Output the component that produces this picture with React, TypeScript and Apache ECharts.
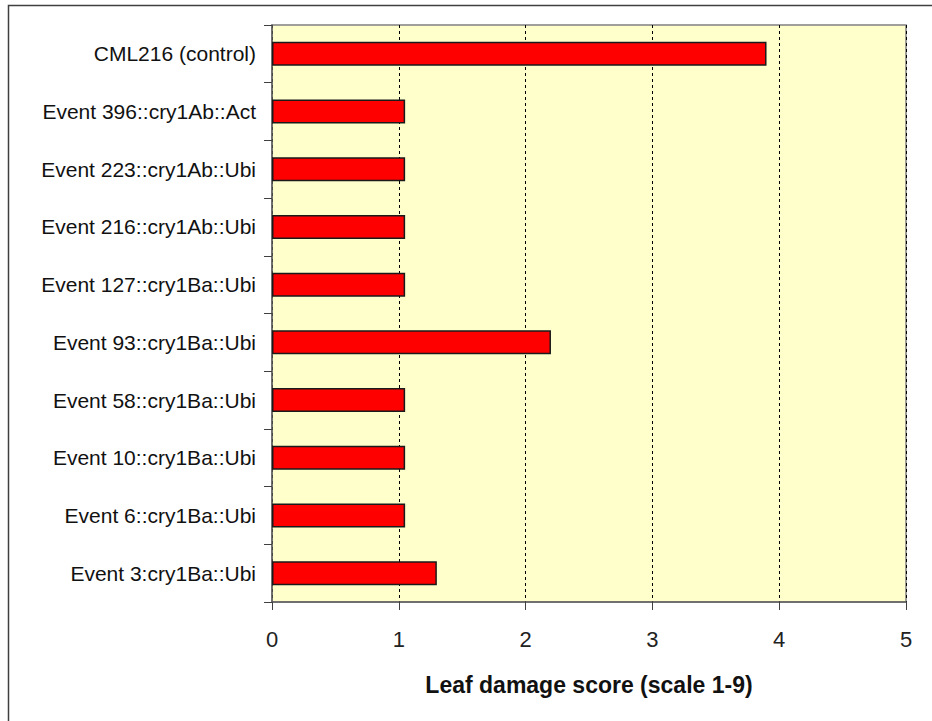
import React, { useEffect, useRef } from "react";
import * as echarts from "echarts";

const categories = [
  "CML216 (control)",
  "Event 396::cry1Ab::Act",
  "Event 223::cry1Ab::Ubi",
  "Event 216::cry1Ab::Ubi",
  "Event 127::cry1Ba::Ubi",
  "Event 93::cry1Ba::Ubi",
  "Event 58::cry1Ba::Ubi",
  "Event 10::cry1Ba::Ubi",
  "Event 6::cry1Ba::Ubi",
  "Event 3:cry1Ba::Ubi",
];
const damageScores = [3.9, 1.05, 1.05, 1.05, 1.05, 2.2, 1.05, 1.05, 1.05, 1.3];
const xTicks = [0, 1, 2, 3, 4, 5];
const xTitle = "Leaf damage score (scale 1-9)";

export default function App() {
  const ref = useRef<HTMLDivElement>(null);
  useEffect(() => {
    if (!ref.current) return;
    const chart = echarts.init(ref.current, undefined, { renderer: "svg" });
    chart.setOption({
      animation: false,
      backgroundColor: "#ffffff",
      textStyle: { fontFamily: "Liberation Sans, Arial, sans-serif" },
      graphic: [
        {
          type: "rect",
          shape: { x: 8.5, y: 5.5, width: 940, height: 740 },
          style: { fill: "none", stroke: "#404040", lineWidth: 1.5 },
          silent: true,
        },
      ],
      grid: {
        left: 272,
        top: 25,
        right: 26,
        bottom: 119,
        show: true,
        backgroundColor: "#FFFFCC",
        borderColor: "#808080",
        borderWidth: 1.5,
      },
      xAxis: {
        type: "value",
        min: xTicks[0],
        max: xTicks[xTicks.length - 1],
        interval: 1,
        name: xTitle,
        nameLocation: "middle",
        nameGap: 71,
        nameTextStyle: {
          fontSize: 23,
          fontWeight: "bold",
          color: "#111",
          fontFamily: "Liberation Sans, Arial, sans-serif",
        },
        axisLine: { show: true, lineStyle: { color: "#606060", width: 1.5 } },
        axisTick: { show: true, length: 8, lineStyle: { color: "#404040" } },
        axisLabel: { fontSize: 22, color: "#222", margin: 26 },
        splitLine: {
          show: true,
          lineStyle: { color: "#000", type: [3, 3], width: 1 },
        },
      },
      yAxis: {
        type: "category",
        data: categories,
        inverse: true,
        axisLine: { show: true, lineStyle: { color: "#606060", width: 1.5 } },
        axisTick: { show: true, length: 8, lineStyle: { color: "#404040" } },
        axisLabel: { fontSize: 21, color: "#111", margin: 16 },
        splitLine: { show: false },
      },
      series: [
        {
          type: "bar",
          data: damageScores,
          barWidth: 24,
          itemStyle: { color: "#FF0000", borderColor: "#1a1a1a", borderWidth: 1.5 },
        },
      ],
    });
    return () => chart.dispose();
  }, []);
  return (
    <div
      ref={ref}
      style={{ position: "fixed", left: 0, top: 0, width: 932, height: 721 }}
    />
  );
}
